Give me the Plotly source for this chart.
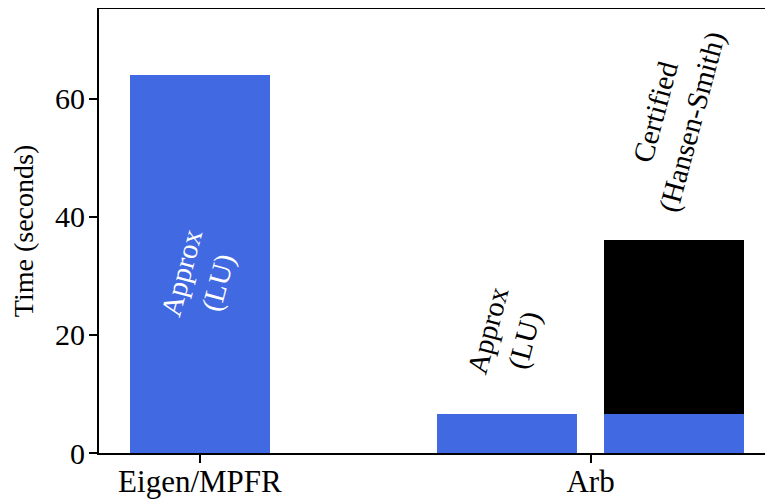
import plotly.graph_objects as go

# Data
approx_x = [0.0, 2.193, 3.386]          # bar centres (bar width = 1)
approx_vals = [64.1, 6.6, 6.6]           # Approx (LU) time / blue bottom of certified
cert_x = [3.386]
cert_vals = [29.4]                       # extra certified part (total ~36)
tick_vals = [0.0, 2.79]
tick_text = ["Eigen/MPFR", "Arb"]
y_ticks = [0, 20, 40, 60]

BLUE = "#4169E1"
FONT = "Liberation Serif"

fig = go.Figure()
fig.add_trace(go.Bar(x=approx_x, y=approx_vals, width=1.0, marker_color=BLUE,
                     marker_line_width=0, showlegend=False))
fig.add_trace(go.Bar(x=cert_x, y=cert_vals, width=1.0, marker_color="black",
                     marker_line_width=0, showlegend=False))

ann = [
    dict(x=approx_x[0], y=29.8, text="Approx<br>(LU)", color="white"),
    dict(x=approx_x[1], y=20.0, text="Approx<br>(LU)", color="black"),
    dict(x=cert_x[0], y=56.8, text="Certified<br>(Hansen-Smith)", color="black"),
]
for a in ann:
    fig.add_annotation(x=a["x"], y=a["y"], text=a["text"], showarrow=False,
                       textangle=-75, xref="x", yref="y",
                       font=dict(family=FONT, size=29, color=a["color"]))

# the page body has an 8px default margin; margins compensate for it
fig.update_layout(
    width=773, height=500,
    barmode="stack",
    bargap=0,
    plot_bgcolor="white", paper_bgcolor="white",
    margin=dict(l=91, r=8, t=1, b=55),
    font=dict(family=FONT, size=28, color="black"),
    xaxis=dict(range=[-0.721, 4.093], tickvals=tick_vals, ticktext=tick_text,
               showgrid=False, zeroline=False, showline=True, linecolor="black",
               linewidth=2, mirror=True, ticks="outside", ticklen=8, tickwidth=2,
               tickcolor="black", tickfont=dict(family=FONT, size=31),
               automargin=False, ticklabelstandoff=-8),
    yaxis=dict(range=[0, 75.2], tickvals=y_ticks, showgrid=False, zeroline=False,
               showline=True, linecolor="black", linewidth=2, mirror=False,
               ticks="outside", ticklen=8, tickwidth=2, tickcolor="black",
               tickfont=dict(family=FONT, size=30), automargin=False,
               ticklabelstandoff=-2,
               title=dict(text="Time (seconds)", font=dict(family=FONT, size=28),
                          standoff=14)),
)

fig.write_html("out.html")
